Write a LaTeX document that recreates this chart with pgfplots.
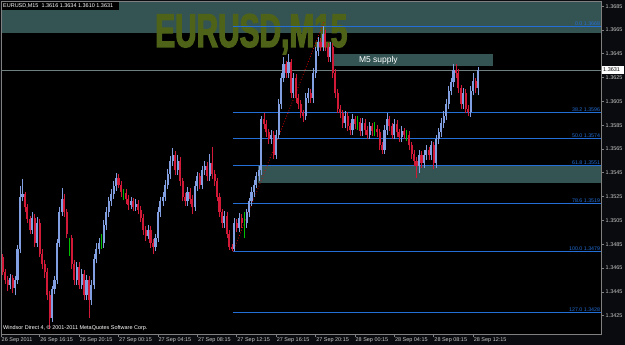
\documentclass[border=0pt]{standalone}
\usepackage{pgfplots}
\pgfplotsset{compat=1.18}
\usepackage{pgfplotstable}
\usepackage{fontspec}
\setmainfont{Liberation Sans}
\newfontfamily\wmfont{Liberation Sans Bold}[FakeBold=2.5, FakeStretch=0.63]
\definecolor{bg}{RGB}{10,11,14}
\definecolor{framegray}{RGB}{128,128,128}
\definecolor{ticktext}{RGB}{200,200,200}
\definecolor{zone}{RGB}{52,84,84}
\definecolor{fib}{RGB}{35,110,215}
\definecolor{upcol}{RGB}{130,160,225}
\definecolor{dncol}{RGB}{210,25,55}
\definecolor{dojicol}{RGB}{0,190,0}
\definecolor{bidline}{RGB}{110,128,128}
\definecolor{wmnavy}{RGB}{22,32,140}
\definecolor{wmolive}{RGB}{78,98,24}

\pgfplotstableread{
i o h l c
4 1.3451 1.3460 1.3447 1.3457
6 1.3448 1.3458 1.3442 1.3455
7 1.3455 1.3484 1.3452 1.3481
8 1.3481 1.3534 1.3478 1.3525
9 1.3525 1.3540 1.3521 1.3527
13 1.3497 1.3512 1.3494 1.3507
15 1.3486 1.3508 1.3483 1.3503
21 1.3423 1.3450 1.3420 1.3447
22 1.3447 1.3458 1.3443 1.3455
23 1.3455 1.3489 1.3452 1.3486
24 1.3486 1.3516 1.3483 1.3512
25 1.3512 1.3532 1.3509 1.3523
31 1.3455 1.3470 1.3451 1.3466
33 1.3451 1.3464 1.3447 1.3460
35 1.3442 1.3459 1.3438 1.3455
37 1.3438 1.3455 1.3434 1.3451
38 1.3451 1.3477 1.3447 1.3473
39 1.3473 1.3486 1.3469 1.3481
40 1.3481 1.3490 1.3477 1.3486
42 1.3486 1.3505 1.3482 1.3501
43 1.3501 1.3516 1.3497 1.3512
44 1.3512 1.3525 1.3508 1.3521
45 1.3521 1.3531 1.3517 1.3527
46 1.3527 1.3538 1.3523 1.3534
47 1.3534 1.3545 1.3530 1.3541
53 1.3518 1.3525 1.3515 1.3521
55 1.3516 1.3523 1.3513 1.3519
60 1.3492 1.3501 1.3489 1.3497
63 1.3483 1.3494 1.3479 1.3490
64 1.3490 1.3516 1.3487 1.3512
65 1.3512 1.3525 1.3508 1.3521
66 1.3521 1.3529 1.3517 1.3525
67 1.3525 1.3539 1.3521 1.3535
68 1.3535 1.3548 1.3531 1.3544
69 1.3544 1.3559 1.3540 1.3555
70 1.3555 1.3566 1.3551 1.3560
72 1.3547 1.3560 1.3543 1.3555
76 1.3521 1.3533 1.3517 1.3529
79 1.3516 1.3538 1.3513 1.3534
80 1.3534 1.3546 1.3530 1.3542
82 1.3535 1.3551 1.3531 1.3547
83 1.3547 1.3555 1.3543 1.3551
85 1.3542 1.3561 1.3538 1.3553
91 1.3503 1.3513 1.3499 1.3509
95 1.3481 1.3507 1.3479 1.3503
97 1.3499 1.3511 1.3495 1.3507
100 1.3503 1.3515 1.3499 1.3512
101 1.3512 1.3524 1.3508 1.3521
102 1.3521 1.3533 1.3517 1.3529
103 1.3529 1.3539 1.3525 1.3535
104 1.3535 1.3546 1.3532 1.3542
105 1.3542 1.3551 1.3538 1.3547
106 1.3547 1.3593 1.3543 1.3590
110 1.3573 1.3581 1.3569 1.3577
112 1.3560 1.3581 1.3557 1.3577
113 1.3577 1.3607 1.3573 1.3603
114 1.3603 1.3629 1.3599 1.3625
115 1.3625 1.3642 1.3621 1.3636
117 1.3629 1.3645 1.3625 1.3638
119 1.3612 1.3629 1.3608 1.3625
124 1.3593 1.3612 1.3589 1.3608
125 1.3608 1.3616 1.3604 1.3612
127 1.3608 1.3633 1.3604 1.3629
128 1.3629 1.3651 1.3625 1.3647
129 1.3647 1.3659 1.3643 1.3655
131 1.3651 1.3668 1.3647 1.3662
134 1.3642 1.3655 1.3638 1.3651
140 1.3587 1.3597 1.3583 1.3593
143 1.3581 1.3594 1.3577 1.3590
147 1.3580 1.3591 1.3576 1.3587
150 1.3577 1.3588 1.3573 1.3584
156 1.3564 1.3585 1.3561 1.3581
157 1.3581 1.3595 1.3577 1.3590
160 1.3577 1.3590 1.3573 1.3586
163 1.3575 1.3584 1.3571 1.3580
170 1.3551 1.3564 1.3545 1.3560
172 1.3553 1.3564 1.3549 1.3560
173 1.3560 1.3568 1.3556 1.3564
175 1.3560 1.3572 1.3556 1.3568
177 1.3553 1.3577 1.3549 1.3573
178 1.3573 1.3583 1.3569 1.3579
179 1.3579 1.3591 1.3575 1.3587
180 1.3587 1.3597 1.3583 1.3593
181 1.3593 1.3607 1.3589 1.3603
182 1.3603 1.3618 1.3599 1.3614
183 1.3614 1.3625 1.3610 1.3621
184 1.3621 1.3636 1.3617 1.3631
188 1.3603 1.3616 1.3599 1.3612
191 1.3596 1.3618 1.3592 1.3614
192 1.3614 1.3629 1.3610 1.3622
194 1.3616 1.3634 1.3610 1.3631
}\upT

\pgfplotstableread{
i o h l c
1 1.3474 1.3477 1.3459 1.3462
2 1.3462 1.3464 1.3452 1.3455
3 1.3455 1.3458 1.3446 1.3451
5 1.3457 1.3459 1.3444 1.3448
10 1.3527 1.3529 1.3512 1.3516
11 1.3516 1.3519 1.3503 1.3506
12 1.3506 1.3509 1.3494 1.3497
14 1.3507 1.3510 1.3483 1.3486
16 1.3503 1.3506 1.3474 1.3477
17 1.3477 1.3481 1.3464 1.3468
18 1.3468 1.3472 1.3457 1.3462
19 1.3462 1.3465 1.3438 1.3442
20 1.3442 1.3446 1.3414 1.3423
26 1.3523 1.3527 1.3508 1.3512
27 1.3512 1.3515 1.3490 1.3494
29 1.3490 1.3493 1.3464 1.3468
30 1.3468 1.3472 1.3451 1.3455
32 1.3466 1.3470 1.3447 1.3451
34 1.3460 1.3463 1.3438 1.3442
36 1.3455 1.3458 1.3423 1.3438
48 1.3541 1.3544 1.3532 1.3535
49 1.3535 1.3538 1.3525 1.3529
51 1.3528 1.3531 1.3519 1.3523
52 1.3523 1.3526 1.3514 1.3518
54 1.3521 1.3524 1.3513 1.3516
56 1.3519 1.3522 1.3510 1.3514
57 1.3514 1.3517 1.3504 1.3507
58 1.3507 1.3510 1.3493 1.3497
59 1.3497 1.3500 1.3488 1.3492
61 1.3497 1.3500 1.3482 1.3486
62 1.3486 1.3489 1.3477 1.3483
71 1.3560 1.3563 1.3543 1.3547
73 1.3555 1.3558 1.3534 1.3538
74 1.3538 1.3541 1.3521 1.3525
75 1.3525 1.3528 1.3517 1.3521
77 1.3529 1.3532 1.3519 1.3523
78 1.3523 1.3526 1.3510 1.3516
81 1.3542 1.3545 1.3531 1.3535
84 1.3551 1.3554 1.3538 1.3542
86 1.3553 1.3567 1.3540 1.3544
87 1.3544 1.3547 1.3534 1.3538
88 1.3538 1.3541 1.3521 1.3525
89 1.3525 1.3528 1.3508 1.3512
90 1.3512 1.3515 1.3499 1.3503
92 1.3509 1.3512 1.3490 1.3494
93 1.3494 1.3497 1.3480 1.3483
94 1.3483 1.3485 1.3479 1.3481
96 1.3503 1.3506 1.3495 1.3499
98 1.3507 1.3510 1.3499 1.3503
107 1.3590 1.3595 1.3582 1.3586
108 1.3586 1.3589 1.3575 1.3579
109 1.3579 1.3582 1.3569 1.3573
111 1.3577 1.3580 1.3557 1.3560
116 1.3636 1.3639 1.3625 1.3629
118 1.3638 1.3641 1.3608 1.3612
120 1.3625 1.3628 1.3604 1.3608
121 1.3608 1.3611 1.3599 1.3603
122 1.3603 1.3606 1.3591 1.3595
123 1.3595 1.3598 1.3588 1.3593
126 1.3612 1.3615 1.3604 1.3608
130 1.3655 1.3658 1.3647 1.3651
132 1.3662 1.3665 1.3647 1.3651
133 1.3651 1.3654 1.3638 1.3642
135 1.3651 1.3654 1.3625 1.3629
136 1.3629 1.3632 1.3608 1.3612
137 1.3612 1.3615 1.3595 1.3599
138 1.3599 1.3602 1.3591 1.3595
139 1.3595 1.3598 1.3583 1.3587
141 1.3593 1.3596 1.3580 1.3584
142 1.3584 1.3587 1.3577 1.3581
144 1.3590 1.3593 1.3582 1.3586
146 1.3588 1.3591 1.3576 1.3580
148 1.3587 1.3590 1.3577 1.3581
149 1.3581 1.3584 1.3573 1.3577
151 1.3584 1.3587 1.3576 1.3580
153 1.3582 1.3585 1.3575 1.3579
154 1.3579 1.3582 1.3564 1.3568
155 1.3568 1.3571 1.3561 1.3564
158 1.3590 1.3593 1.3580 1.3584
159 1.3584 1.3587 1.3573 1.3577
161 1.3586 1.3589 1.3575 1.3579
162 1.3579 1.3582 1.3571 1.3575
164 1.3580 1.3583 1.3573 1.3577
166 1.3577 1.3580 1.3564 1.3568
167 1.3568 1.3571 1.3557 1.3561
168 1.3561 1.3564 1.3551 1.3555
169 1.3555 1.3558 1.3541 1.3551
171 1.3560 1.3563 1.3549 1.3553
174 1.3564 1.3567 1.3556 1.3560
176 1.3568 1.3571 1.3548 1.3553
185 1.3631 1.3636 1.3625 1.3629
186 1.3629 1.3632 1.3612 1.3616
187 1.3616 1.3619 1.3599 1.3603
189 1.3612 1.3615 1.3595 1.3599
190 1.3599 1.3602 1.3593 1.3596
193 1.3622 1.3625 1.3612 1.3616
}\dnT

\pgfplotstableread{
i o h l c
28 1.3483 1.3490 1.3475 1.3483
41 1.3488 1.3494 1.3481 1.3488
50 1.3528 1.3531 1.3522 1.3528
99 1.3505 1.3512 1.3490 1.3505
145 1.3588 1.3593 1.3581 1.3588
152 1.3582 1.3588 1.3576 1.3582
165 1.3577 1.3581 1.3572 1.3577
}\dojiT

\newcommand{\tinyf}{\fontsize{5.5}{6}\selectfont}
\newcommand{\fibf}{\fontsize{5.3}{5.8}\selectfont}
\newcommand{\wmtext}{\wmfont\fontsize{47.5}{48}\selectfont EURUSD,M15}

\begin{document}
\begin{tikzpicture}
\useasboundingbox (0,0) rectangle (625bp,345bp);
\fill[bg] (0,0) rectangle (625bp,345bp);
\fill[black] (1bp,11bp) rectangle (601bp,344bp);
\fill[zone] (1bp,312bp) rectangle (601bp,344bp);
% watermark
\node[anchor=base west, inner sep=0pt, text=wmolive] at (155bp,298bp) {\wmtext};

\begin{axis}[
  at={(1bp,11bp)}, anchor=south west, scale only axis,
  width=600bp, height=333bp,
  xmin=0.284, xmax=243.9, ymin=1.34096, ymax=1.36893,
  axis line style={draw=framegray, line width=0.8bp},
  tick align=outside, major tick length=3bp,
  tick style={draw=framegray, line width=0.6bp},
  xtick pos=bottom, ytick pos=right, yticklabel pos=right,
  xtick={0.3,16,32,48,64,80,96,112,128,144,160,176,192},
  xticklabels={26 Sep 2011,26 Sep 16:15,26 Sep 20:15,27 Sep 00:15,27 Sep 04:15,27 Sep 08:15,27 Sep 12:15,27 Sep 16:15,27 Sep 20:15,28 Sep 00:15,28 Sep 04:15,28 Sep 08:15,28 Sep 12:15},
  x tick label style={anchor=north west, inner sep=0pt, font=\tinyf, text=ticktext, xshift=0.5bp, yshift=-0.5bp},
  ytick={1.3405,1.3425,1.3445,1.3465,1.3485,1.3505,1.3525,1.3545,1.3565,1.3585,1.3605,1.3625,1.3645,1.3665,1.3685},
  yticklabels={1.3405,1.3425,1.3445,1.3465,1.3485,1.3505,1.3525,1.3545,1.3565,1.3585,1.3605,1.3625,1.3645,1.3665,1.3685},
  y tick label style={anchor=west, inner sep=0pt, font=\tinyf, text=ticktext, xshift=1.5bp},
]
% zones
\fill[zone] (axis cs:104.7,1.35362) rectangle (axis cs:243.9,1.3551);
\fill[zone] (axis cs:134.7,1.36345) rectangle (axis cs:200.1,1.36450);
% bid line
\draw[bidline, line width=0.6bp] (axis cs:0.284,1.3631) -- (axis cs:243.9,1.3631);
% fibo levels
\foreach \lv/\lab in {1.3668/0.0 1.3668, 1.3596/38.2 1.3596, 1.3574/50.0 1.3574, 1.3551/61.8 1.3551, 1.3519/78.6 1.3519, 1.3479/100.0 1.3479, 1.3428/127.0 1.3428}{
  \edef\temp{\noexpand\draw[fib, line width=0.8bp] (axis cs:94.5,\lv) -- (axis cs:243.9,\lv) node[pos=1, anchor=south east, inner sep=0.6pt, text=fib, font=\noexpand\fibf] {\lab};}
  \temp
}
% fib trend line
\draw[red!85!black, dotted, line width=0.8bp] (axis cs:94.5,1.3479) -- (axis cs:131.5,1.3672);
% candles: wicks
\addplot[draw=none, mark=none, error bars/.cd, y dir=plus, y explicit, error mark=none, error bar style={draw=dncol, line width=0.6bp}] table[x=i, y=l, y error expr=\thisrow{h}-\thisrow{l}] {\dnT};
\addplot[draw=none, mark=none, error bars/.cd, y dir=plus, y explicit, error mark=none, error bar style={draw=upcol, line width=0.6bp}] table[x=i, y=l, y error expr=\thisrow{h}-\thisrow{l}] {\upT};
\addplot[draw=none, mark=none, error bars/.cd, y dir=plus, y explicit, error mark=none, error bar style={draw=dojicol, line width=0.8bp}] table[x=i, y=l, y error expr=\thisrow{h}-\thisrow{l}] {\dojiT};
% candles: bodies
\addplot[draw=none, mark=none, error bars/.cd, y dir=plus, y explicit, error mark=none, error bar style={draw=dncol, line width=2.1bp}] table[x=i, y=c, y error expr=\thisrow{o}-\thisrow{c}] {\dnT};
\addplot[draw=none, mark=none, error bars/.cd, y dir=plus, y explicit, error mark=none, error bar style={draw=upcol, line width=2.1bp}] table[x=i, y=o, y error expr=\thisrow{c}-\thisrow{o}] {\upT};
% M5 supply label
\node[text=white, font=\fontsize{8.5}{9}\selectfont] at (axis cs:153.5,1.363975) {M5 supply};
\end{axis}

% price marker
\fill[white] (602bp,271bp) rectangle (624bp,279bp);
\node[anchor=west, inner sep=0pt, text=black, font=\tinyf] at (603bp,275bp) {1.3631};
% info text
\fill[black] (2bp,335bp) rectangle (119bp,343bp);
\node[anchor=west, inner sep=0pt, text=white, font=\tinyf] at (3bp,339bp) {EURUSD,M15\ \ 1.3616 1.3634 1.3610 1.3631};
\node[anchor=west, inner sep=0pt, text=white, font=\tinyf] at (3bp,17bp) {Windsor Direct 4, © 2001-2011 MetaQuotes Software Corp.};
\end{tikzpicture}
\end{document}
